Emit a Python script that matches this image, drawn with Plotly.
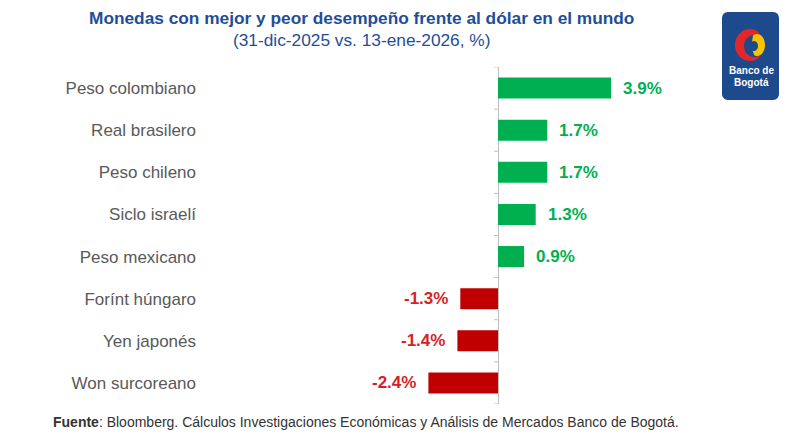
import numpy as np
import plotly.graph_objects as go

categories = ["Peso colombiano", "Real brasilero", "Peso chileno", "Siclo israelí",
              "Peso mexicano", "Forínt húngaro", "Yen japonés", "Won surcoreano"]
values = [3.9, 1.7, 1.7, 1.3, 0.9, -1.3, -1.4, -2.4]
labels = ["3.9%", "1.7%", "1.7%", "1.3%", "0.9%", "-1.3%", "-1.4%", "-2.4%"]

title_text = "<b>Monedas con mejor y peor desempeño frente al dólar en el mundo</b>"
subtitle_text = "(31-dic-2025 vs. 13-ene-2026, %)"
footer_text = "<b>Fuente</b>: Bloomberg. Cálculos Investigaciones Económicas y Análisis de Mercados Banco de Bogotá."

GREEN = "#00B050"
RED = "#C00000"
RED_TXT = "#D51F26"
BLUE = "#1F4E99"
FONT = "Arial, Liberation Sans, sans-serif"

OFF = 8  # page body margin
W, H = 800 - OFF, 448 - OFF
# desired on-screen positions
SCR_PLOT_L, SCR_PLOT_R, SCR_PLOT_T, SCR_PLOT_B = 205, 700, 67, 404
L = SCR_PLOT_L - OFF
R = W - (SCR_PLOT_R - OFF)
T = SCR_PLOT_T - OFF
B = H - (SCR_PLOT_B - OFF)
PW, PH = W - L - R, H - T - B
ZERO_SCR, PX_PER_UNIT = 498, 29.0
xmin = -(ZERO_SCR - SCR_PLOT_L) / PX_PER_UNIT
xmax = (SCR_PLOT_R - ZERO_SCR) / PX_PER_UNIT


def px(x):
    """screen x pixel -> paper fraction"""
    return (x - SCR_PLOT_L) / PW


def py(y):
    """screen y pixel -> paper fraction"""
    return (SCR_PLOT_B - y) / PH


colors = [GREEN if v >= 0 else RED for v in values]

fig = go.Figure(go.Bar(
    x=values, y=categories, orientation="h",
    marker=dict(color=colors, line=dict(width=0)),
    width=0.5, hoverinfo="skip",
))

annotations = []
for c, v, t in zip(categories, values, labels):
    pos = v >= 0
    annotations.append(dict(
        x=v, y=c, xref="x", yref="y", text=f"<b>{t}</b>", showarrow=False,
        xanchor="left" if pos else "right", xshift=10 if pos else -10,
        font=dict(family=FONT, size=17, color=GREEN if pos else RED_TXT),
    ))

annotations += [
    dict(x=px(361), y=py(18), xref="paper", yref="paper", text=title_text,
         showarrow=False, xanchor="center", yanchor="middle",
         font=dict(family=FONT, size=17.3, color=BLUE)),
    dict(x=px(361), y=py(40), xref="paper", yref="paper", text=subtitle_text,
         showarrow=False, xanchor="center", yanchor="middle",
         font=dict(family=FONT, size=17.3, color=BLUE)),
    dict(x=px(51), y=py(422), xref="paper", yref="paper", text=footer_text,
         showarrow=False, xanchor="left", yanchor="middle",
         font=dict(family=FONT, size=14, color="#333333")),
    dict(x=px(751), y=py(71), xref="paper", yref="paper", text="<b>Banco de</b>",
         showarrow=False, xanchor="center", yanchor="middle",
         font=dict(family=FONT, size=10, color="white")),
    dict(x=px(751), y=py(82), xref="paper", yref="paper", text="<b>Bogotá</b>",
         showarrow=False, xanchor="center", yanchor="middle",
         font=dict(family=FONT, size=10, color="white")),
]

shapes = []
# small tick marks at category boundaries, left of the zero line
for i in range(len(categories) + 1):
    shapes.append(dict(type="line", xref="x", yref="y",
                       x0=-4 / PX_PER_UNIT, x1=0, y0=i - 0.5, y1=i - 0.5,
                       line=dict(color="#BFBFBF", width=1)))


def path_from(points):
    return "M " + " L ".join(f"{px(a):.5f},{py(b):.5f}" for a, b in points) + " Z"


# logo background (rounded rectangle)
x0, x1, y0, y1, rr = 722, 779, 12, 100, 6
pts = []
for cx, cy, a0 in [(x1 - rr, y0 + rr, -90), (x1 - rr, y1 - rr, 0),
                   (x0 + rr, y1 - rr, 90), (x0 + rr, y0 + rr, 180)]:
    for a in np.linspace(a0, a0 + 90, 8):
        pts.append((cx + rr * np.cos(np.radians(a)), cy + rr * np.sin(np.radians(a))))
shapes.append(dict(type="path", xref="paper", yref="paper", path=path_from(pts),
                   fillcolor="#1D4A8C", line=dict(width=0), layer="above"))

# red crescent
outer = [(750 + 15 * np.cos(np.radians(a)), 45 + 16 * np.sin(np.radians(a)))
         for a in np.linspace(-55, -305, 30)]
inner = [(754 + 10 * np.cos(np.radians(a)), 46 + 11 * np.sin(np.radians(a)))
         for a in np.linspace(-305, -55, 30)]
shapes.append(dict(type="path", xref="paper", yref="paper", path=path_from(outer + inner),
                   fillcolor="#E3262A", line=dict(width=0), layer="above"))
# yellow shape
yel = [(757 + 8 * np.cos(np.radians(a)), 45 + 11 * np.sin(np.radians(a)))
       for a in np.linspace(-120, 110, 30)]
yel_in = [(754 + 4 * np.cos(np.radians(a)), 46 + 5 * np.sin(np.radians(a)))
          for a in np.linspace(110, -120, 20)]
shapes.append(dict(type="path", xref="paper", yref="paper", path=path_from(yel + yel_in),
                   fillcolor="#F6C400", line=dict(width=0), layer="above"))

fig.update_layout(
    width=W, height=H,
    margin=dict(l=L, r=R, t=T, b=B, autoexpand=False),
    paper_bgcolor="white", plot_bgcolor="white",
    showlegend=False,
    font=dict(family=FONT),
    xaxis=dict(range=[xmin, xmax], showgrid=False, showticklabels=False, ticks="",
               zeroline=True, zerolinecolor="#BFBFBF", zerolinewidth=1, showline=False,
               fixedrange=True),
    yaxis=dict(categoryorder="array", categoryarray=categories,
               range=[len(categories) - 0.5, -0.5], showgrid=False, showline=False,
               ticks="", tickfont=dict(family=FONT, size=17, color="#595959"),
               ticklabelstandoff=8, fixedrange=True),
    annotations=annotations,
    shapes=shapes,
)

fig.write_html("out.html")
